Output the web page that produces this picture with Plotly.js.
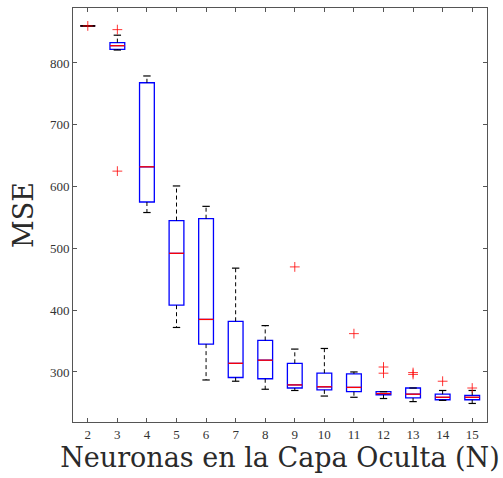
<!DOCTYPE html>
<html><head><meta charset="utf-8">
<script src="https://cdn.plot.ly/plotly-3.0.1.min.js"></script>
<style>html,body{margin:0;padding:0;background:#fff}#chart{width:503px;height:478px}</style>
</head><body><div id="chart"></div>
<script>
const neurons   = [2, 3, 4, 5, 6, 7, 8, 9, 10, 11, 12, 13, 14, 15];
const lowerWhisker = [860, 821, 558, 372, 287, 285, 272, 270, 261, 259, 257, 252, 254, 249];
const q1Values     = [860, 822, 575, 408, 345, 291, 289, 274, 271, 268, 263, 258, 255, 255];
const medianValues = [860, 828, 632, 492, 385, 314, 319, 279, 276, 275, 265, 264, 259, 259];
const q3Values     = [860, 833, 768, 545, 548, 382, 351, 314, 298, 297, 268, 274, 264, 262];
const upperWhisker = [860, 845, 779, 601, 568, 468, 375, 337, 338, 300, 268, 274, 270, 270];
const outlierN     = [2, 3, 3, 9, 11, 12, 12, 13, 13, 14, 15];
const outlierMSE   = [860, 854, 625, 470, 362, 308, 298, 299, 296, 285, 274];
const xTickLabels  = ['2','3','4','5','6','7','8','9','10','11','12','13','14','15'];

const boxHalf = 0.25, capHalf = 0.125;
const whX = [], whY = [], capX = [], capY = [], medX = [], medY = [];
neurons.forEach((n, i) => {
  whX.push(n, n, null, n, n, null);
  whY.push(q3Values[i], upperWhisker[i], null, q1Values[i], lowerWhisker[i], null);
  const ch = (q1Values[i] === q3Values[i] && upperWhisker[i] === q3Values[i]) ? boxHalf : capHalf;
  capX.push(n - ch, n + ch, null, n - ch, n + ch, null);
  capY.push(upperWhisker[i], upperWhisker[i], null, lowerWhisker[i], lowerWhisker[i], null);
  medX.push(n - boxHalf, n + boxHalf, null);
  medY.push(medianValues[i], medianValues[i], null);
});

const traces = [
  {type:'box', x:neurons, q1:q1Values, median:medianValues, q3:q3Values,
   lowerfence:q1Values, upperfence:q3Values, width:0.5, whiskerwidth:0,
   fillcolor:'rgba(0,0,0,0)', line:{color:'#0000ff', width:1.3}, boxpoints:false, hoverinfo:'skip'},
  {type:'scatter', mode:'lines', x:medX, y:medY, line:{color:'#ff0000', width:1.3}, hoverinfo:'skip'},
  {type:'scatter', mode:'lines', x:whX, y:whY, line:{color:'#000', width:1, dash:'4px,3px'}, hoverinfo:'skip'},
  {type:'scatter', mode:'lines', x:capX, y:capY, line:{color:'#000', width:1.2}, hoverinfo:'skip'},
  {type:'scatter', mode:'markers', x:outlierN, y:outlierMSE,
   marker:{symbol:'cross-thin-open', size:7, line:{color:'#ff0000', width:0.8}, color:'#ff0000'}, hoverinfo:'skip'}
];

const layout = {
  width:503, height:478, showlegend:false,
  paper_bgcolor:'#fff', plot_bgcolor:'#fff',
  margin:{l:73, r:16, t:8, b:56},
  font:{family:'"Liberation Serif", "DejaVu Serif", serif', color:'#333'},
  xaxis:{range:[1.5, 15.5], tickvals:neurons, ticktext:xTickLabels, ticks:'inside', ticklen:4,
    tickcolor:'#555', showgrid:false, zeroline:false, showline:true, linecolor:'#555', linewidth:1, mirror:'ticks',
    tickfont:{size:13, color:'#333'},
    title:{text:'Neuronas en la Capa Oculta (N)', font:{family:'"DejaVu Serif", serif', size:27, color:'#2a2a2a'}, standoff:3}},
  yaxis:{range:[219, 889], tickvals:[300,400,500,600,700,800], ticks:'inside', ticklen:4,
    tickcolor:'#555', showgrid:false, zeroline:false, showline:true, linecolor:'#555', linewidth:1, mirror:'ticks',
    tickfont:{size:13, color:'#333'},
    title:{text:'MSE', font:{family:'"DejaVu Serif", serif', size:27, color:'#2a2a2a'}, standoff:8}}
};
Plotly.newPlot('chart', traces, layout, {displayModeBar:false, staticPlot:true});
</script></body></html>
